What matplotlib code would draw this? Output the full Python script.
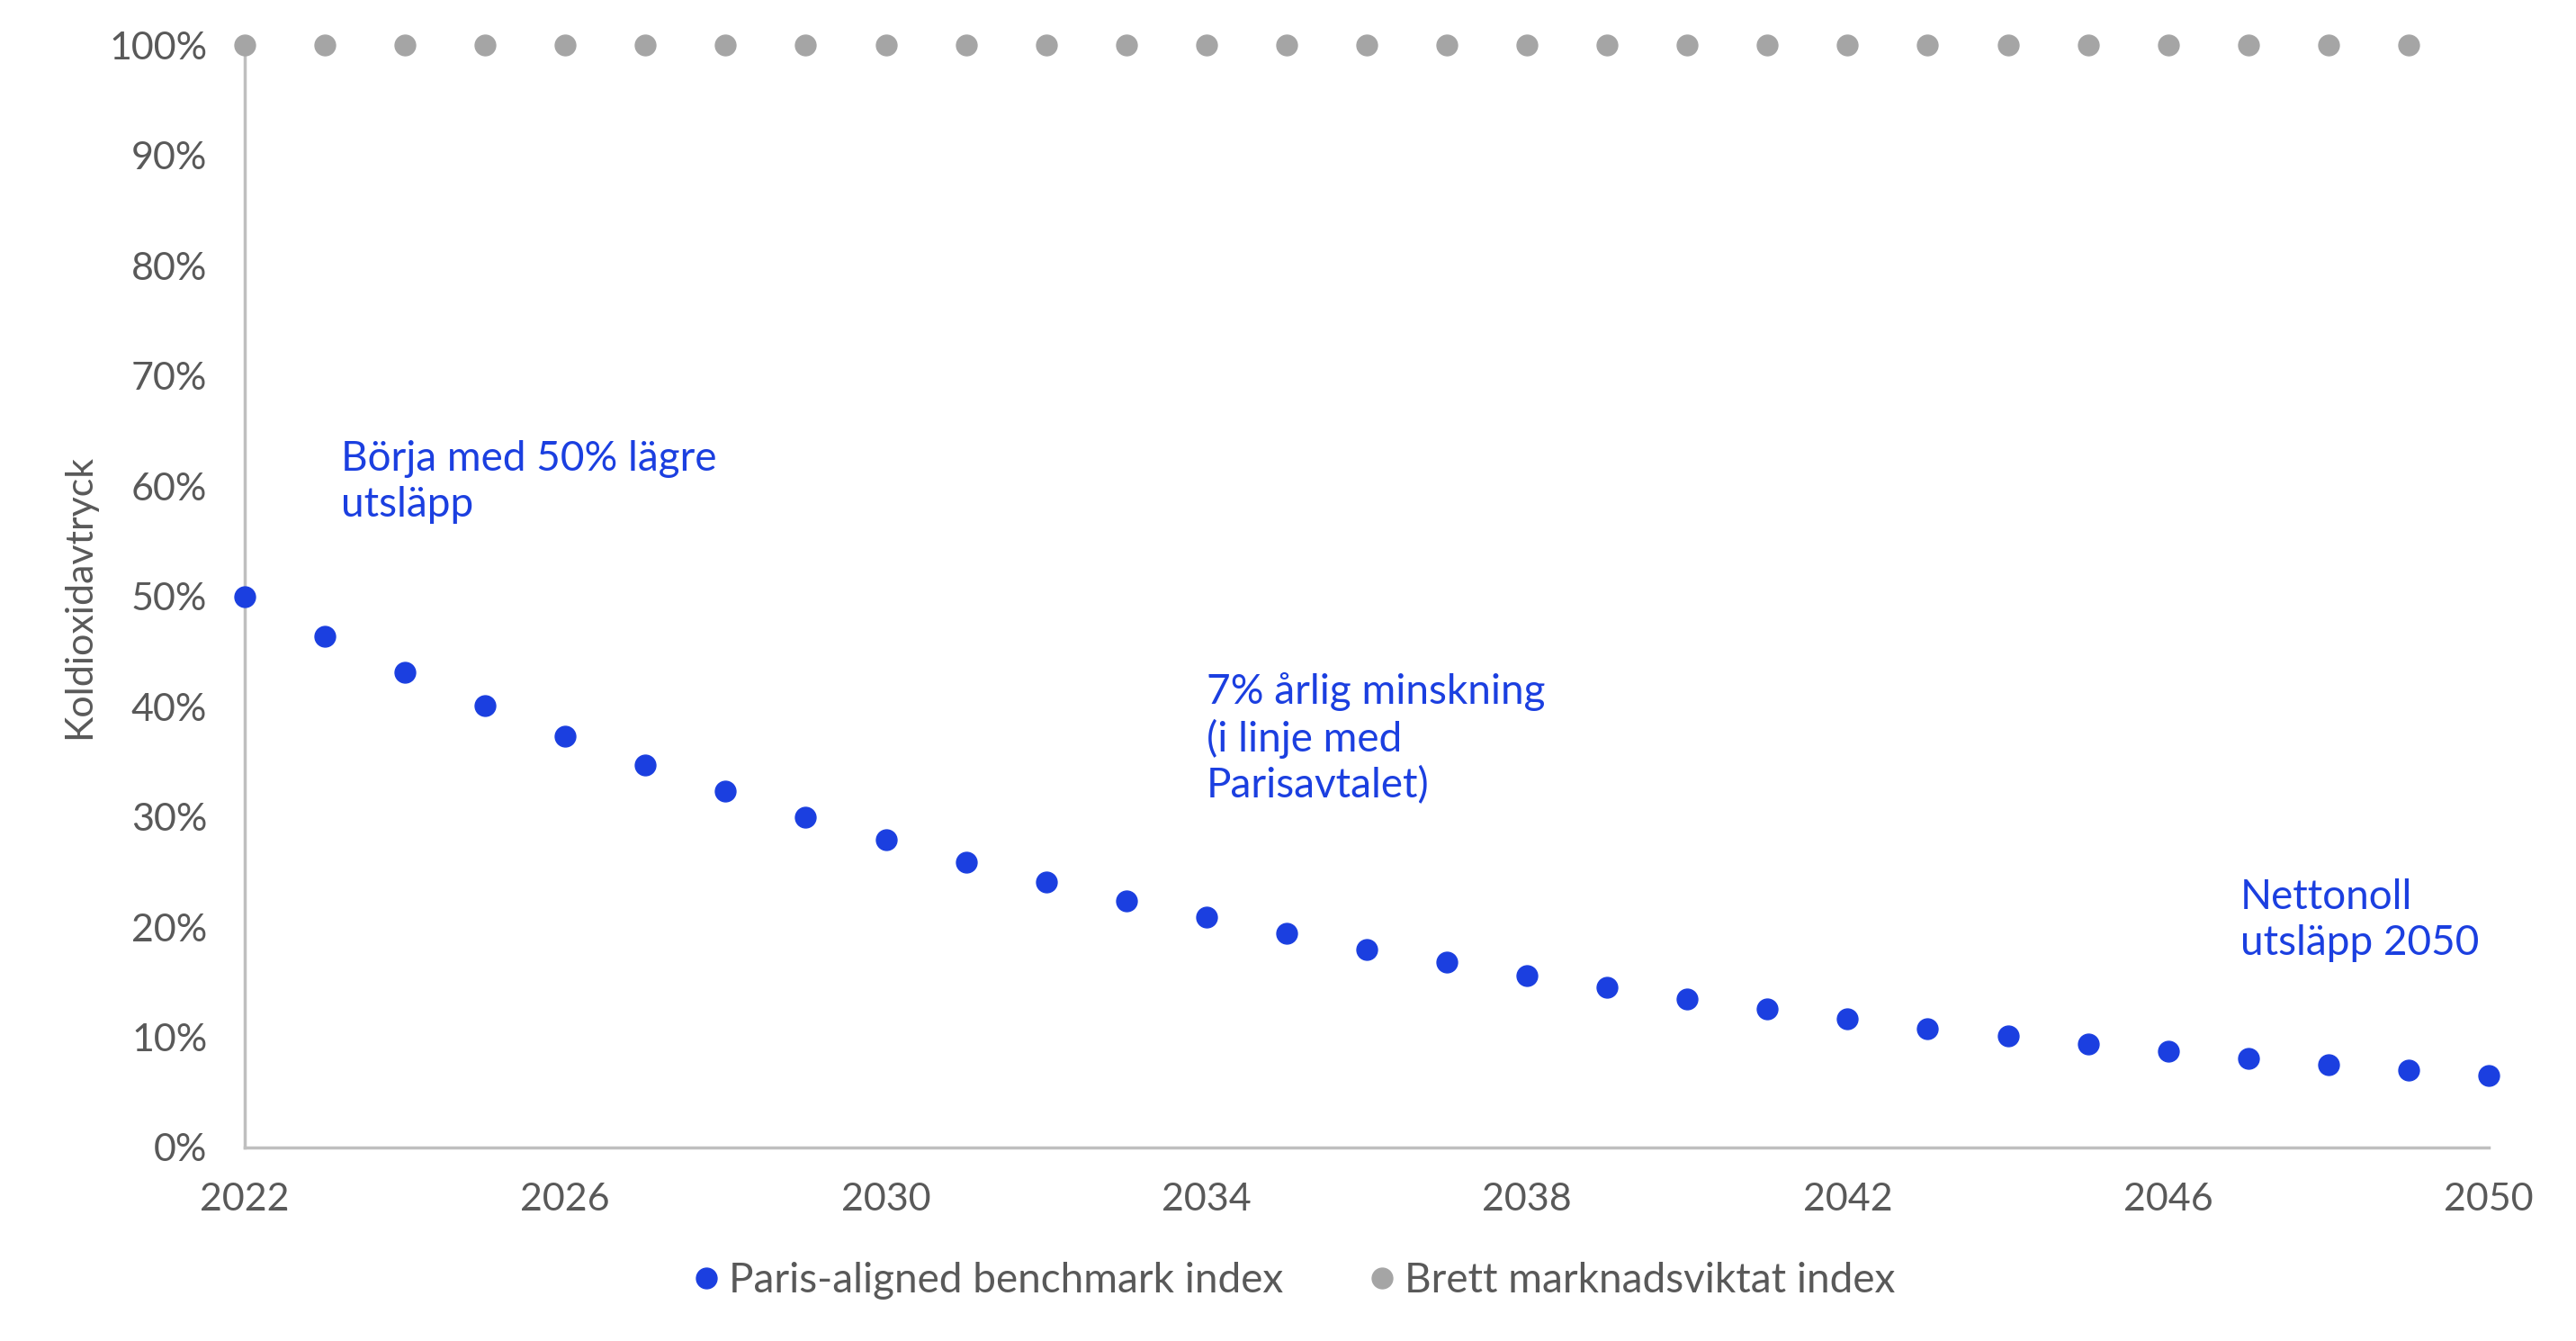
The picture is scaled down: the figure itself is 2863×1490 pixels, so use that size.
import matplotlib
matplotlib.use('Agg')
import matplotlib.pyplot as plt
from matplotlib.lines import Line2D

plt.rcParams['font.family'] = ['Lato', 'DejaVu Sans']

# data
years = list(range(2022, 2051))
paris = [50.0, 46.4, 43.1, 40.1, 37.3, 34.7, 32.3, 30.0, 27.9, 25.9,
         24.1, 22.4, 20.9, 19.4, 18.0, 16.8, 15.6, 14.5, 13.5, 12.6,
         11.7, 10.8, 10.1, 9.4, 8.7, 8.1, 7.5, 7.0, 6.5]
broad_years = list(range(2022, 2050))
broad = [100] * len(broad_years)
xticks = [2022, 2026, 2030, 2034, 2038, 2042, 2046, 2050]
yticks = [0, 10, 20, 30, 40, 50, 60, 70, 80, 90, 100]

blue = '#1b3fe0'
grey = '#a5a5a5'
txt = '#595959'
axcol = '#bfbfbf'

fig = plt.figure(figsize=(28.63, 14.90), dpi=100)
ax = fig.add_axes([0.0950, 0.1443, 0.9661 - 0.0950, 0.9664 - 0.1443])

ax.plot(broad_years, broad, 'o', color=grey, markersize=16.5, clip_on=False, zorder=3)
ax.plot(years, paris, 'o', color=blue, markersize=16.5, clip_on=False, zorder=3)

ax.set_xlim(2022, 2050)
ax.set_ylim(0, 100)
ax.set_xticks(xticks)
ax.set_xticklabels([str(y) for y in xticks])
ax.set_yticks(yticks)
ax.set_yticklabels([f'{v}%' for v in yticks])
ax.tick_params(length=0, labelsize=31, labelcolor=txt)
ax.tick_params(axis='y', pad=30)
ax.tick_params(axis='x', pad=28)

for s in ['top', 'right']:
    ax.spines[s].set_visible(False)
for s in ['left', 'bottom']:
    ax.spines[s].set_color(axcol)
    ax.spines[s].set_linewidth(2.5)

ax.set_ylabel('Koldioxidavtryck', fontsize=31, color=txt)
ax.yaxis.set_label_coords(-0.066, 0.5)

ax.text(2023.2, 60.35, 'Börja med 50% lägre\nutsläpp', color=blue, fontsize=33,
        ha='left', va='center', linespacing=1.25)
ax.text(2034.0, 37.1, '7% årlig minskning\n(i linje med\nParisavtalet)', color=blue,
        fontsize=33, ha='left', va='center', linespacing=1.25)
ax.text(2046.9, 20.6, 'Nettonoll\nutsläpp 2050', color=blue, fontsize=33,
        ha='left', va='center', linespacing=1.25)

handles = [Line2D([], [], marker='o', linestyle='none', color=blue, markersize=16.5),
           Line2D([], [], marker='o', linestyle='none', color=grey, markersize=16.5)]
leg = fig.legend(handles, ['Paris-aligned benchmark index', 'Brett marknadsviktat index'],
                 loc='center', bbox_to_anchor=(0.501, 1 - 1423 / 1490), ncol=2,
                 frameon=False, fontsize=33, handletextpad=0.05, columnspacing=1.9,
                 handlelength=1.0)
for t in leg.get_texts():
    t.set_color(txt)

fig.savefig('out.png', dpi=100, facecolor='white')
